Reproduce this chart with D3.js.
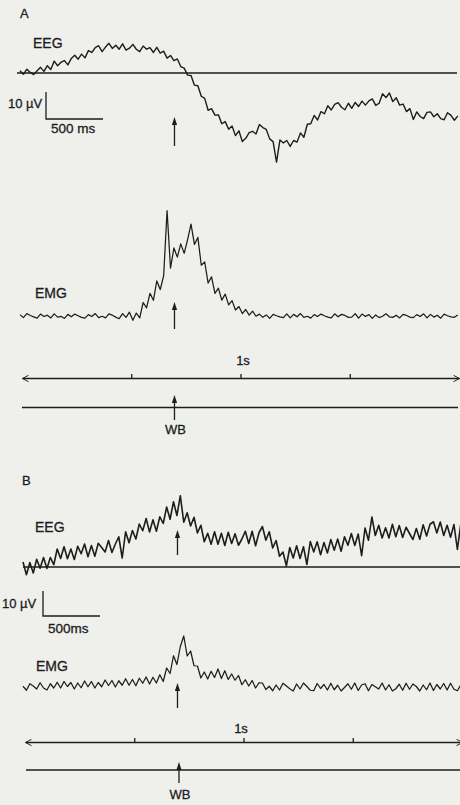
<!DOCTYPE html>
<html>
<head>
<meta charset="utf-8">
<script src="https://cdn.jsdelivr.net/npm/d3@7"></script>
<style>
    html, body {margin:0; padding:0; background:#efefec;}
    svg {display:block;}
    text {font-family:"Liberation Sans", Arial, sans-serif; fill:#1d1d1d; stroke:#1d1d1d; stroke-width:0.3;}
</style>
</head>
<body>
<div id="figure"></div>
<script>
// sampling step of the traces (ms), values in µV above the trace baseline
const stepMs = 30;
const wbMs = 1355;
const secondTicks = [1, 2, 3];
const panelNames = ["A", "B"];
const traceNames = ["EEG", "EMG"];
const scaleLabels = [["10 µV", "500 ms"], ["10 µV", "500ms"]];

const eegA = [
    0.8,-0.5,1.4,0.2,-0.6,0.8,2.1,0.6,2.7,1.3,
    4.4,2.7,4.0,4.6,3.0,5.4,6.6,5.1,7.0,5.6,
    8.3,7.6,9.4,10.1,7.9,9.6,11.0,9.1,10.3,8.8,
    10.8,8.5,9.2,10.6,8.8,7.9,10.0,8.8,9.4,7.6,
    9.5,7.4,8.1,5.5,6.5,4.6,5.2,2.4,1.8,-0.8,
    -0.9,-4.5,-4.7,-8.6,-9.4,-13.8,-13.2,-15.6,-15.5,-18.8,
    -18.0,-20.8,-19.6,-23.2,-21.4,-25.4,-24.2,-22.1,-21.6,-22.6,
    -19.1,-20.2,-20.9,-24.4,-25.4,-33.0,-24.8,-25.9,-25.0,-27.2,
    -25.0,-25.6,-22.2,-23.8,-19.0,-18.8,-15.7,-17.4,-14.3,-15.1,
    -12.1,-13.7,-11.6,-11.0,-12.7,-13.6,-11.2,-13.1,-10.9,-12.4,
    -10.4,-11.9,-10.3,-9.6,-12.0,-11.2,-7.7,-9.1,-7.4,-10.6,
    -9.2,-11.9,-11.5,-14.3,-13.2,-17.2,-14.4,-16.1,-16.9,-14.6,
    -14.4,-16.2,-15.1,-16.9,-17.3,-14.7,-15.7,-17.5,-15.9
];
const emgA = [
    0.5,-0.6,0.9,0.2,-0.3,-0.8,0.7,-0.2,0.3,-0.7,
    0.8,-0.4,-0.1,-0.9,0.6,-0.3,0.7,0.1,-0.5,-0.8,
    0.5,-0.2,0.9,-0.6,-0.1,-0.7,0.8,0.3,-0.4,-1.0,
    0.9,-0.5,1.4,-1.6,1.1,-0.7,5.0,3.0,8.4,5.8,
    13.0,9.8,14.9,39.0,17.7,25.2,21.8,26.7,23.2,28.3,
    34.0,26.5,29.1,18.8,20.0,12.2,14.5,8.4,10.3,5.9,
    8.1,4.1,5.7,2.2,3.5,0.9,2.4,0.3,1.8,-0.1,
    0.7,-0.5,0.4,-0.9,0.6,0.1,-0.3,-0.6,0.8,-0.7,
    0.6,-0.3,0.9,-0.5,-0.1,-0.8,0.5,-0.2,0.7,0.1,
    -0.4,-0.7,0.8,-0.3,0.6,0.2,-0.5,-0.4,0.9,-0.8,
    0.7,-0.2,0.5,-0.9,0.4,-0.6,-0.1,0.8,-0.3,-0.5,
    0.3,-0.7,0.6,0.2,-0.4,-0.6,0.5,-0.2,0.8,-0.7,
    0.6,-0.4,0.3,-0.8,0.7,0.1,-0.3,-0.5,0.4
];
const eegB = [
    2.0,-3.1,1.8,-2.4,3.1,-0.5,3.8,-0.6,3.8,0.9,
    7.2,3.4,8.1,3.3,7.2,3.0,8.3,5.3,9.2,4.1,
    8.6,4.3,9.5,7.8,6.0,10.6,5.8,9.2,12.1,3.6,
    14.1,9.7,14.6,11.2,17.2,14.5,19.4,14.0,18.9,14.3,
    20.1,17.4,24.0,19.1,26.1,20.6,28.5,17.9,21.7,16.4,
    19.9,13.6,16.7,10.1,13.5,9.1,14.1,9.1,13.5,8.6,
    13.9,9.4,13.3,8.7,11.2,14.3,9.4,14.3,8.5,13.7,
    16.2,10.7,14.1,7.6,10.6,4.3,6.0,0.5,7.8,3.6,
    8.5,3.4,8.1,1.0,10.2,6.0,10.1,4.9,9.8,5.6,
    11.0,6.7,11.2,6.3,12.1,8.7,13.4,8.6,13.2,4.5,
    15.6,10.7,20.0,12.6,16.7,11.6,15.7,11.6,17.1,12.1,
    16.6,11.8,15.9,13.4,11.0,15.4,11.1,16.9,12.4,17.1,
    18.1,13.6,18.0,12.6,16.7,11.9,17.0,7.0,17.2
];
const emgB = [
    0.3,-1.3,1.3,0.4,-0.8,1.7,-0.4,-1.2,1.3,-0.4,
    1.9,-0.4,2.2,0.2,1.8,-0.8,1.6,-0.3,2.4,0.1,
    2.2,-0.4,1.8,0.1,2.8,0.6,2.6,0.0,2.5,0.7,
    3.3,0.7,3.0,0.5,3.5,1.5,4.0,1.2,3.9,1.6,
    4.9,2.2,7.6,5.4,12.5,9.0,16.2,20.4,12.4,14.4,
    8.5,8.4,3.6,6.0,3.2,6.3,3.8,7.2,3.4,6.5,
    3.0,5.2,2.7,4.6,0.9,2.9,0.4,2.6,-0.4,1.7,
    1.6,-1.0,0.3,-1.5,0.8,-1.2,1.5,0.4,-0.7,-1.6,
    1.2,-0.8,1.6,0.2,-1.3,-1.5,1.4,-0.6,1.0,-1.2,
    1.5,-1.1,0.7,-1.6,-0.2,1.3,-0.9,1.6,-1.4,0.8,
    1.3,-1.5,1.0,0.1,-0.8,1.6,-1.2,0.9,-1.6,-0.7,
    1.1,-1.3,1.5,-0.9,1.2,0.2,-1.6,0.8,-1.1,1.6,
    -1.4,1.0,-0.8,1.4,-1.2,1.5,-0.9,-1.5,0.9
];

const width = 460, height = 805;
const ink = "#1d1d1d";

class TracePanel {
    constructor(svg, cfg) {
        this.svg = svg;
        this.cfg = cfg;
        this.x = d3.scaleLinear().domain([0, (cfg.eeg.length-1)*stepMs]).range([cfg.x0, cfg.x0+437.8]);
    }
    yScale(base) {
        return d3.scaleLinear().domain([0, 10]).range([base, base-10*this.cfg.pxPerUv]);
    }
    draw() {
        let c = this.cfg;
        let g = this.svg.append("g");
        this.#Label(g, c.name, c.nameAt[0], c.nameAt[1], 13);

        // EEG: zero line, trace, label, arrow
        let yEeg = this.yScale(c.eegBase);
        g.append("line").attr("x1",c.eegLine[0]).attr("x2",c.eegLine[1])
            .attr("y1",yEeg(0)).attr("y2",yEeg(0)).attr("stroke",ink).attr("stroke-width",1.6);
        this.#Trace(g, c.eeg, yEeg, c.eegWidth);
        this.#Label(g, traceNames[0], c.eegLabel[0], c.eegLabel[1], 14);
        this.#Arrow(g, this.x(wbMs), c.eegArrow[0], c.eegArrow[1]);

        // calibration bars
        let bx = c.bar[0], by = c.bar[1];
        let bw = this.x(500)-this.x(0), bh = yEeg(0)-yEeg(10);
        g.append("path").attr("d",`M${bx},${by-bh}V${by}H${bx+bw}`)
            .attr("fill","none").attr("stroke",ink).attr("stroke-width",1.3);
        this.#Label(g, c.scaleText[0], c.uvAt[0], c.uvAt[1], 13);
        this.#Label(g, c.scaleText[1], c.msAt[0], c.msAt[1], 13.5);

        // EMG
        let yEmg = this.yScale(c.emgBase);
        this.#Trace(g, c.emg, yEmg, 1.25);
        this.#Label(g, traceNames[1], c.emgLabel[0], c.emgLabel[1], 14);
        this.#Arrow(g, this.x(wbMs), c.emgArrow[0], c.emgArrow[1]);

        // one-second time axis with open arrow ends
        let s = d3.scaleLinear().domain([0, 4]).range(c.axisRange);
        let axis = g.append("g").attr("transform",`translate(0,${c.axisY})`)
            .call(d3.axisTop(s).tickValues(secondTicks).tickSize(4).tickSizeOuter(0).tickFormat(""));
        axis.selectAll("line,path").attr("stroke",ink).attr("stroke-width",1.3);
        axis.select(".domain").attr("marker-start","url(#open)").attr("marker-end","url(#open)");
        this.#Label(g, "1s", c.oneS[0], c.oneS[1], 13).attr("text-anchor","middle");

        // WB marker line
        g.append("line").attr("x1",c.wbLine[0]).attr("x2",c.wbLine[1]).attr("y1",c.wbY).attr("y2",c.wbY)
            .attr("stroke",ink).attr("stroke-width",1.4);
        this.#Arrow(g, this.x(wbMs)+c.wbShift, c.wbArrow[0], c.wbArrow[1]);
        this.#Label(g, "WB", this.x(wbMs)+c.wbShift+1, c.wbText, 13).attr("text-anchor","middle");
    }
    #Trace = (g, values, y, w) => {
        let line = d3.line().x((d, i) => this.x(i*stepMs)).y(d => y(d));
        return g.append("path").datum(values).attr("d",line).attr("fill","none")
            .attr("stroke",ink).attr("stroke-width",w).attr("stroke-linejoin","round");
    };
    #Arrow = (g, x, top, bottom) => {
        g.append("line").attr("x1",x).attr("x2",x).attr("y1",top+5).attr("y2",bottom)
            .attr("stroke",ink).attr("stroke-width",1.3);
        g.append("path").attr("d",`M${x},${top}L${x-2.6},${top+8}L${x+2.6},${top+8}Z`).attr("fill",ink);
    };
    #Label = (g, txt, x, y, size) => {
        return g.append("text").attr("x",x).attr("y",y).attr("font-size",size).text(txt);
    };
}

let svg = d3.select("#figure").append("svg").attr("width",width).attr("height",height);
svg.append("rect").attr("width",width).attr("height",height).attr("fill","#efefec");
svg.append("defs").append("marker").attr("id","open")
    .attr("viewBox","0 0 8 10").attr("refX",7.5).attr("refY",5)
    .attr("markerWidth",7).attr("markerHeight",8).attr("markerUnits","userSpaceOnUse")
    .attr("orient","auto-start-reverse")
    .append("path").attr("d","M0,1L7.5,5L0,9").attr("fill","none").attr("stroke",ink).attr("stroke-width",1.2);

new TracePanel(svg, {
    name:panelNames[0], nameAt:[20,18], x0:20, pxPerUv:2.7, eeg:eegA, emg:emgA, eegWidth:1.4,
    eegBase:73, eegLine:[17,457], eegLabel:[33,48], eegArrow:[117,146],
    bar:[46,119], uvAt:[8,108], msAt:[51,133], scaleText:scaleLabels[0],
    emgBase:316, emgLabel:[35,298], emgArrow:[302,329],
    axisY:378, axisRange:[22,459], oneS:[243,365],
    wbY:407.5, wbLine:[22,458], wbArrow:[395,420], wbShift:0, wbText:434
}).draw();

new TracePanel(svg, {
    name:panelNames[1], nameAt:[22,485], x0:23, pxPerUv:2.5, eeg:eegB, emg:emgB, eegWidth:1.6,
    eegBase:567, eegLine:[23,460], eegLabel:[35,532], eegArrow:[530,555],
    bar:[43,616], uvAt:[2,608], msAt:[48,633], scaleText:scaleLabels[1],
    emgBase:687, emgLabel:[36,671], emgArrow:[683,708],
    axisY:742, axisRange:[25,462], oneS:[241,733],
    wbY:770, wbLine:[26,460], wbArrow:[762,783], wbShift:1.5, wbText:799
}).draw();
</script>
</body>
</html>
